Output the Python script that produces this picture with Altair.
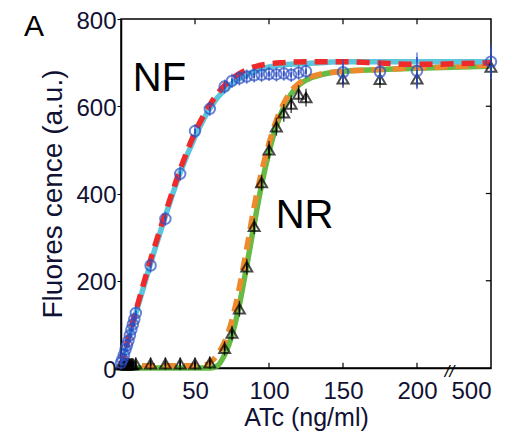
import altair as alt
import pandas as pd

# ---- data ----
# NF (blue circles)
nf_atc = [0, 1, 2, 3, 4, 5, 6, 7, 8, 9, 10, 20, 30, 40, 50, 60, 70, 75, 80, 85, 90, 95, 100, 105, 110, 115, 120, 125, 150, 175, 200, 500]
nf_val = [12, 20, 30, 42, 52, 62, 75, 88, 100, 112, 126, 235, 342, 445, 543, 594, 645, 658, 664, 668, 671, 672, 674, 673, 675, 672, 677, 680, 678, 679, 681, 702]
nf_err = [5, 5, 5, 5, 5, 5, 5, 5, 5, 5, 6, 6, 6, 6, 6, 6, 6, 6, 6, 6, 6, 6, 6, 6, 6, 6, 6, 6, 20, 15, 32, 30]

# NR (black triangles)
nr_atc = [0, 1, 2, 3, 4, 5, 6, 7, 8, 10, 20, 30, 40, 50, 60, 70, 75, 80, 85, 90, 95, 100, 105, 110, 115, 120, 125, 150, 175, 200, 500]
nr_val = [8, 8, 8, 8, 8, 8, 8, 8, 8, 10, 10, 10, 10, 10, 12, 45, 80, 136, 232, 325, 425, 500, 553, 585, 605, 628, 620, 663, 662, 663, 690]
nr_err = [4, 4, 4, 4, 4, 4, 4, 4, 4, 4, 4, 4, 4, 4, 4, 6, 6, 8, 8, 8, 8, 10, 10, 10, 10, 10, 10, 10, 10, 10, 10]

# fitted curves
nf_fit_x = [0, 5, 10, 20, 30, 40, 50, 60, 70, 80, 90, 100, 110, 125, 150, 175, 200, 500]
nf_cyan_y = [0, 65, 125, 240, 348, 448, 530, 595, 638, 663, 680, 690, 695, 698, 702, 702, 702, 702]
nf_red_y = [0, 68, 130, 248, 355, 455, 540, 603, 648, 675, 690, 697, 700, 702, 702, 699, 696, 700]

nr_green_x = [0, 60, 65, 70, 75, 80, 85, 90, 95, 100, 105, 110, 115, 120, 125, 135, 150, 175, 200, 500]
nr_green_y = [0, 0, 5, 30, 75, 145, 235, 330, 420, 495, 555, 598, 628, 648, 660, 672, 680, 684, 687, 692]
nr_orange_x = [0, 50, 58, 62, 66, 70, 75, 80, 85, 90, 95, 100, 105, 110, 115, 120, 125, 135, 150, 175, 200, 500]
nr_orange_y = [5, 5, 8, 18, 35, 60, 110, 185, 275, 370, 450, 515, 568, 607, 635, 652, 663, 674, 680, 684, 688, 694]

x_ticks = [0, 50, 100, 150, 200, 500]
y_ticks = [0, 200, 400, 600, 800]


def pos(v):
    # axis break: 500 is drawn one tick step after 200
    return v if v <= 200 else 250


def pts(xs, ys, errs):
    return pd.DataFrame({
        "x": [pos(a) for a in xs],
        "y": ys,
        "lo": [b - e for b, e in zip(ys, errs)],
        "hi": [b + e for b, e in zip(ys, errs)],
    })


def line_df(xs, ys):
    return pd.DataFrame({"x": [pos(a) for a in xs], "y": ys})


nf = pts(nf_atc, nf_val, nf_err)
nr = pts(nr_atc, nr_val, nr_err)

xscale = alt.Scale(domain=[0, 250], nice=False, zero=False)
yscale = alt.Scale(domain=[0, 800], nice=False)

xaxis = alt.Axis(
    values=[pos(v) for v in x_ticks],
    labelExpr="datum.value == 250 ? '500' : datum.label",
    title="ATc (ng/ml)", ticks=False, labelPadding=11, titlePadding=2,
    titleFontSize=25, grid=False,
)
yaxis = alt.Axis(values=y_ticks, title="Fluores cence (a.u.)", tickSize=4,
                 labelPadding=1, labelOffset=2, titlePadding=8, titleFontSize=28,
                 grid=False)

X = alt.X("x:Q", scale=xscale, axis=xaxis)
Y = alt.Y("y:Q", scale=yscale, axis=yaxis)


def curve(df, color, dash=None, width=5.5):
    kw = dict(color=color, strokeWidth=width, interpolate="monotone")
    if dash:
        kw["strokeDash"] = dash
    return alt.Chart(df).mark_line(**kw).encode(x=X, y=Y)


green = curve(line_df(nr_green_x, nr_green_y), "#66BB44")
orange = curve(line_df(nr_orange_x, nr_orange_y), "#EE8A2E", dash=[13, 8])
cyan = curve(line_df(nf_fit_x, nf_cyan_y), "#5CC6DC")
red = curve(line_df(nf_fit_x, nf_red_y), "#EE2A2A", dash=[13, 8])


def markers(df, color, shape, size):
    bars = alt.Chart(df).mark_rule(color=color, strokeWidth=1.5).encode(
        x="x:Q", y="lo:Q", y2="hi:Q")
    caps_lo = alt.Chart(df).mark_tick(color=color, thickness=1.5, size=9).encode(
        x="x:Q", y="lo:Q")
    caps_hi = alt.Chart(df).mark_tick(color=color, thickness=1.5, size=9).encode(
        x="x:Q", y="hi:Q")
    m = alt.Chart(df).mark_point(shape=shape, filled=False, color=color,
                                 size=size, strokeWidth=2).encode(x="x:Q", y="y:Q")
    return bars + caps_lo + caps_hi + m


nr_layer = markers(nr, "#000000", "triangle-up", 120)
nf_layer = markers(nf, "#2D4FC4", "circle", 110)

# inward ticks on bottom, top and right edges
bt = pd.DataFrame({"x": [50, 100, 150, 200], "y": [0] * 4, "y2": [12] * 4})
tt = pd.DataFrame({"x": [50, 100, 150, 200], "y": [800] * 4, "y2": [788] * 4})
rt = pd.DataFrame({"x": [250] * 3, "x2": [246.5] * 3, "y": [200, 400, 600]})
bticks = alt.Chart(bt).mark_rule(color="black", strokeWidth=1.2).encode(x="x:Q", y="y:Q", y2="y2:Q")
tticks = alt.Chart(tt).mark_rule(color="black", strokeWidth=1.2).encode(x="x:Q", y="y:Q", y2="y2:Q")
rticks = alt.Chart(rt).mark_rule(color="black", strokeWidth=1.2).encode(x="x:Q", x2="x2:Q", y="y:Q")

labels = pd.DataFrame({"x": [26, 124], "y": [663, 348], "t": ["NF", "NR"]})
lab = alt.Chart(labels).mark_text(font="Liberation Sans", fontSize=40, color="black",
                                  align="center", baseline="middle").encode(
    x="x:Q", y="y:Q", text="t:N")

panel = alt.Chart(pd.DataFrame({"t": ["A"]})).mark_text(
    font="Liberation Sans", fontSize=30, color="black", align="center", baseline="top"
).encode(x=alt.value(-87), y=alt.value(-7), text="t:N")

brk = alt.Chart(pd.DataFrame({"x": [222], "t": ["//"]})).mark_text(
    font="Liberation Sans", fontSize=17, fontStyle="italic", color="black",
    align="center", baseline="middle"
).encode(x="x:Q", y=alt.value(353), text="t:N")

chart = alt.layer(
    green, orange, cyan, red, nr_layer, nf_layer,
    bticks, tticks, rticks, lab, panel, brk
).properties(
    width=370, height=349,
    autosize=alt.AutoSizeParams(type="none"),
    padding={"left": 113, "top": 11, "right": 20, "bottom": 64},
).configure_view(
    stroke="black", strokeWidth=1.5
).configure_axis(
    domainColor="black", domainWidth=1.5, tickColor="black",
    labelFont="Liberation Sans", labelFontSize=24, labelColor="#111133",
    titleFont="Liberation Sans", titleColor="#111133",
    titleFontWeight="normal",
)

chart.save("out.html", embed_options={"renderer": "svg", "actions": False})
